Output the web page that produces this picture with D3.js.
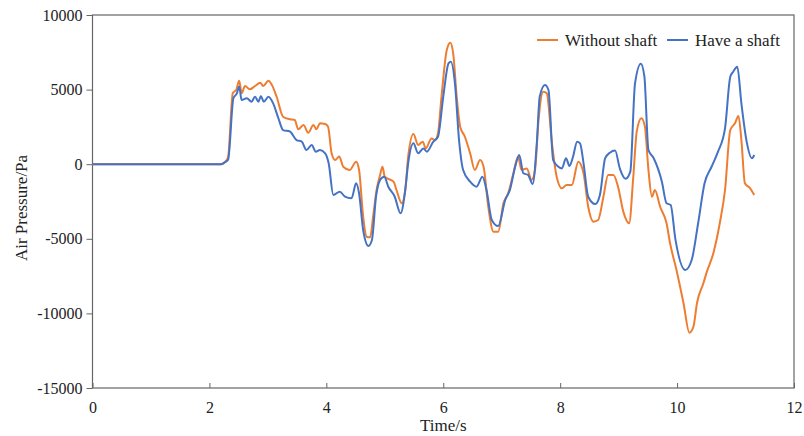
<!DOCTYPE html>
<html>
<head>
<meta charset="utf-8">
<script src="https://cdn.jsdelivr.net/npm/d3@7"></script>
<style>
  body { margin: 0; background: #fff; }
  text { font-family: "Liberation Serif", "Times New Roman", serif; fill: #222; }
</style>
</head>
<body>
<div id="d3-container"></div>
<script>
// time (s) and pressure (Pa)
const timeWithout = [0, 2.2, 2.27, 2.32, 2.40, 2.46, 2.51, 2.55, 2.61, 2.69, 2.78, 2.87, 2.92, 3.01, 3.07, 3.15, 3.26, 3.38, 3.46, 3.52, 3.61, 3.69, 3.78, 3.83, 3.89, 3.98, 4.03, 4.09, 4.15, 4.22, 4.29, 4.40, 4.51, 4.56, 4.63, 4.69, 4.75, 4.80, 4.86, 4.92, 4.96, 5.00, 5.15, 5.20, 5.29, 5.35, 5.40, 5.49, 5.57, 5.65, 5.70, 5.80, 5.86, 5.91, 5.97, 6.06, 6.12, 6.17, 6.23, 6.29, 6.37, 6.46, 6.54, 6.63, 6.69, 6.77, 6.86, 6.94, 7.03, 7.11, 7.20, 7.28, 7.34, 7.43, 7.51, 7.57, 7.63, 7.71, 7.77, 7.86, 7.94, 8.03, 8.11, 8.20, 8.31, 8.40, 8.48, 8.57, 8.65, 8.74, 8.82, 8.91, 8.99, 9.08, 9.18, 9.25, 9.31, 9.39, 9.45, 9.51, 9.57, 9.62, 9.71, 9.82, 9.88, 9.99, 10.11, 10.21, 10.28, 10.34, 10.45, 10.51, 10.62, 10.73, 10.82, 10.91, 10.99, 11.05, 11.10, 11.16, 11.25, 11.32];
const withoutShaft = [0, 0, 150, 480, 4770, 5000, 5600, 4750, 5240, 5020, 5240, 5460, 5240, 5600, 5300, 4520, 3180, 3010, 2960, 2340, 2630, 2110, 2630, 2340, 2740, 2700, 2510, 730, 280, 520, -170, -390, 170, -390, -3520, -4860, -4900, -3520, -1730, -720, -170, -840, -1170, -1730, -2620, -1730, 500, 2020, 1290, 1510, 1060, 1730, 1620, 2070, 4520, 7650, 8140, 7430, 4520, 2510, 1840, 730, -390, 280, -170, -2850, -4520, -4520, -2620, -1950, -610, 500, -390, -280, -1060, -390, 2960, 4860, 4750, 1400, -840, -1620, -1390, -1390, 170, -610, -2850, -3850, -3740, -2180, -720, -720, -1510, -3180, -3960, -900, 2200, 3080, 2510, -390, -2180, -1730, -2850, -3960, -5300, -7090, -9320, -11290, -10890, -9320, -7980, -7200, -5970, -3960, -1730, 2290, 2740, 3230, 1620, -1280, -1620, -2060];

const timeHave = [0, 2.2, 2.27, 2.32, 2.41, 2.47, 2.51, 2.55, 2.64, 2.72, 2.78, 2.84, 2.88, 2.93, 3.01, 3.09, 3.18, 3.26, 3.38, 3.49, 3.58, 3.66, 3.75, 3.82, 3.89, 3.98, 4.04, 4.12, 4.23, 4.32, 4.43, 4.51, 4.56, 4.63, 4.72, 4.78, 4.85, 4.92, 4.99, 5.06, 5.17, 5.27, 5.35, 5.40, 5.49, 5.57, 5.66, 5.72, 5.83, 5.91, 6.00, 6.09, 6.13, 6.20, 6.27, 6.34, 6.46, 6.57, 6.67, 6.74, 6.83, 6.94, 7.06, 7.14, 7.23, 7.30, 7.37, 7.45, 7.53, 7.60, 7.65, 7.74, 7.80, 7.88, 7.97, 8.03, 8.10, 8.16, 8.22, 8.29, 8.34, 8.40, 8.48, 8.60, 8.68, 8.77, 8.85, 8.94, 9.02, 9.12, 9.20, 9.28, 9.38, 9.44, 9.51, 9.60, 9.74, 9.82, 9.89, 9.97, 10.14, 10.25, 10.36, 10.47, 10.59, 10.70, 10.82, 10.91, 10.96, 11.03, 11.10, 11.19, 11.28, 11.32];
const haveShaft = [0, 0, 150, 300, 4420, 4750, 5200, 4300, 4420, 4190, 4520, 4190, 4570, 4190, 4520, 4080, 3080, 2290, 2180, 1620, 1510, 950, 1290, 840, 950, 730, 60, -2060, -1840, -2180, -2290, -1280, -1950, -4410, -5480, -5080, -2180, -1060, -840, -1510, -2180, -3290, -1730, 60, 1400, 730, 1060, 840, 1510, 1840, 4520, 6760, 6870, 5420, 1620, -390, -1170, -1510, -840, -1730, -3740, -4150, -2400, -1730, -170, 620, -610, -720, -1330, 1400, 4520, 5310, 4970, 280, -170, -280, 400, -120, 500, 1510, 1400, 60, -2180, -2670, -2060, 400, 770, 920, -280, -980, -500, 5400, 6740, 5900, 950, 400, -1170, -2620, -2730, -5000, -7090, -6420, -3960, -1280, -170, 840, 2400, 5860, 6200, 6530, 4080, 1510, 400, 620];

const xTicks = [0, 2, 4, 6, 8, 10, 12];
const yTicks = [-15000, -10000, -5000, 0, 5000, 10000];
const seriesNames = ["Without shaft", "Have a shaft"];
const colors = ["#ED7D31", "#4472C4"];

const width = 804;
const height = 436;
const margin = { top: 15, bottom: 48, left: 92.5, right: 10 };

const svg = d3.select("#d3-container")
    .append("svg")
    .attr("width", width)
    .attr("height", height);

const x = d3.scaleLinear()
    .domain([0, 12])
    .range([margin.left, width - margin.right]);

const y = d3.scaleLinear()
    .domain([-15000, 10000])
    .range([height - margin.bottom, margin.top]);

// axes
svg.append("g")
    .attr("transform", `translate(0,${height - margin.bottom})`)
    .call(d3.axisBottom(x).tickValues(xTicks).tickSizeInner(-5).tickSizeOuter(0).tickPadding(14))
    .call(g => g.select(".domain").remove())
    .call(g => g.selectAll("line").attr("stroke", "#666"))
    .call(g => g.selectAll("text").attr("font-size", "16px").attr("fill", "#222")
        .attr("font-family", "Liberation Serif"));

svg.append("g")
    .attr("transform", `translate(${margin.left},0)`)
    .call(d3.axisLeft(y).tickValues(yTicks).tickSize(6).tickPadding(4).tickFormat(d => String(d)))
    .call(g => g.select(".domain").remove())
    .call(g => g.selectAll("line").attr("stroke", "#666"))
    .call(g => g.selectAll("text").attr("font-size", "16px").attr("fill", "#222")
        .attr("font-family", "Liberation Serif"));

// frame
svg.append("rect")
    .attr("x", x(0))
    .attr("y", y(10000))
    .attr("width", x(12) - x(0))
    .attr("height", y(-15000) - y(10000))
    .attr("fill", "none")
    .attr("stroke", "#666")
    .attr("stroke-width", 1.2);

const line = d3.line()
    .x(d => x(d[0]))
    .y(d => y(d[1]))
    .curve(d3.curveMonotoneX);

const series = [
    d3.zip(timeWithout, withoutShaft),
    d3.zip(timeHave, haveShaft)
];

svg.append("g")
    .selectAll("path")
    .data(series)
    .join("path")
    .attr("fill", "none")
    .attr("stroke", (d, i) => colors[i])
    .attr("stroke-width", 2)
    .attr("stroke-linejoin", "round")
    .attr("d", line);

// legend
const legend = svg.append("g").attr("transform", "translate(537,40)");
const legendX = [0, 130];
seriesNames.forEach((name, i) => {
    const g = legend.append("g").attr("transform", `translate(${legendX[i]},0)`);
    g.append("line")
        .attr("x1", 0).attr("x2", 21)
        .attr("stroke", colors[i])
        .attr("stroke-width", 2);
    g.append("text")
        .attr("x", 28)
        .attr("dy", "0.35em")
        .attr("font-size", "17px")
        .text(name);
});

// axis titles
svg.append("text")
    .attr("x", (x(0) + x(12)) / 2)
    .attr("y", 431)
    .attr("text-anchor", "middle")
    .attr("font-size", "17px")
    .text("Time/s");

svg.append("text")
    .attr("transform", `translate(27,${208}) rotate(-90)`)
    .attr("text-anchor", "middle")
    .attr("font-size", "17px")
    .text("Air Pressure/Pa");
</script>
</body>
</html>
